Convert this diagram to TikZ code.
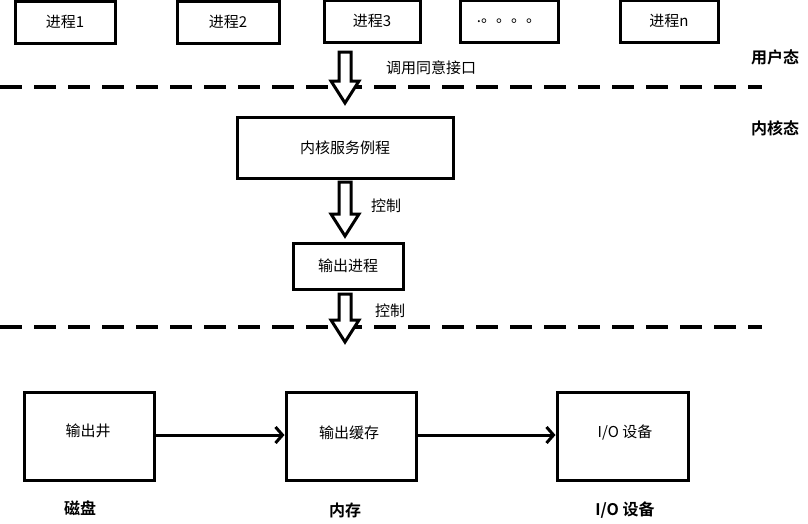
\documentclass[tikz,border=0pt]{standalone}
\usepackage{fontspec}
\setmainfont{Noto Sans CJK SC}
\newfontfamily\cjkb{Noto Sans CJK SC Bold}
\usetikzlibrary{arrows.meta}
\newcommand{\hollowarr}[3]{%
  \draw[line width=3pt,line join=miter,fill=white] (#1-6,#2) -- (#1+6,#2) -- (#1+6,#3-22) -- (#1+14,#3-22) -- (#1,#3) -- (#1-14,#3-22) -- (#1-6,#3-22) -- cycle;}
\begin{document}
\begin{tikzpicture}[x=1pt,y=-1pt,
  box/.style={draw,line width=3pt,inner sep=0pt,font=\fontsize{15}{17}\selectfont},
  lab/.style={font=\fontsize{15}{17}\selectfont,inner sep=0pt},
  blab/.style={font=\cjkb\fontsize{16}{18}\selectfont,inner sep=0pt},
  dashline/.style={line width=3.2pt,dash pattern=on 22pt off 12pt},
  arr/.style={line width=3pt,-{Straight Barb[length=7pt,width=16pt]}}]
\useasboundingbox (0,0) rectangle (808,523);
\node[box,minimum width=100,minimum height=42] (p1) at (65,22) {进程1};
\node[box,minimum width=102,minimum height=42] (p2) at (228,22) {进程2};
\node[box,minimum width=96,minimum height=42] (p3) at (372,21) {进程3};
\node[box,minimum width=98,minimum height=42] (p4) at (509,21) {.。。。。};
\node[box,minimum width=98,minimum height=42] (pn) at (669,21) {进程n};
\draw[dashline] (0,87) -- (762,87);
\draw[dashline] (0,327) -- (762,327);
\node[blab] (u) at (775,57) {用户态};
\node[blab] (k) at (775,128) {内核态};
\node[box,minimum width=216,minimum height=61] (ks) at (345,147.5) {内核服务例程};
\node[box,minimum width=110,minimum height=46] (op) at (348,266) {输出进程};
\hollowarr{345}{52}{103}
\hollowarr{345}{182}{236}
\hollowarr{345}{294}{342}
\node[lab] (t1) at (431,68) {调用同意接口};
\node[lab] (t2) at (386,206) {控制};
\node[lab] (t3) at (390,311) {控制};
\node[box,minimum width=130,minimum height=88] (w) at (89,436) {};
\node[lab] at (88,431) {输出井};
\node[box,minimum width=130,minimum height=88] (b) at (351,436) {};
\node[lab] at (349,433) {输出缓存};
\node[box,minimum width=131,minimum height=88] (io) at (622.5,436) {};
\node[lab] at (625,433) {I/O 设备};
\draw[arr] (w.east |- 0,435) -- (b.west |- 0,435);
\draw[arr] (b.east |- 0,435) -- (io.west |- 0,435);
\node[blab] (d) at (80,508) {磁盘};
\node[blab] (m) at (345,510) {内存};
\node[blab] (i) at (625,510) {I/O 设备};
\end{tikzpicture}
\end{document}
